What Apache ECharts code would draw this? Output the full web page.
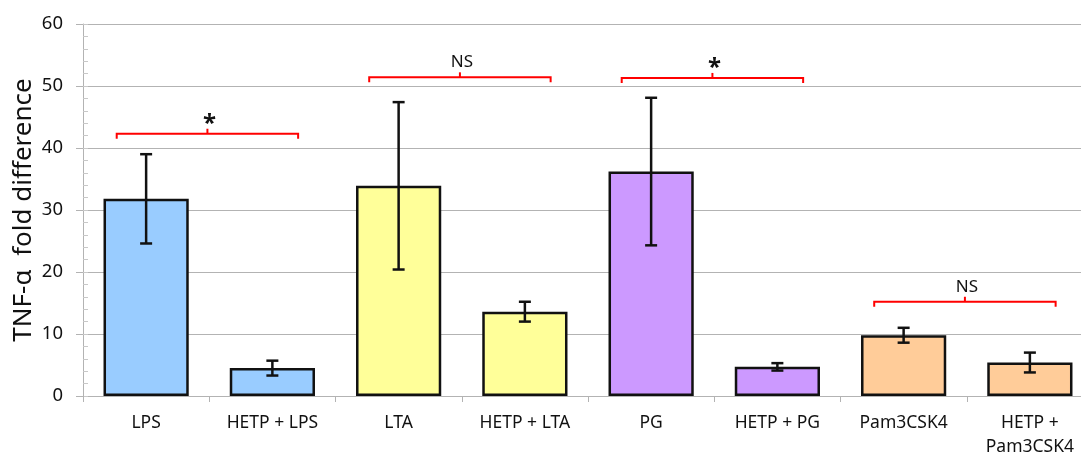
<!DOCTYPE html>
<html><head><meta charset="utf-8">
<script src="https://cdn.jsdelivr.net/npm/echarts@6/dist/echarts.min.js"></script>
<style>html,body{margin:0;padding:0;overflow:hidden;background:#fff;width:1081px;height:457px}#c{width:1093px;height:457px}</style>
</head><body><div id="c"></div>
<script>
const categories = ['LPS', 'HETP + LPS', 'LTA', 'HETP + LTA', 'PG', 'HETP + PG', 'Pam3CSK4', 'HETP +\nPam3CSK4'];
const means = [31.8, 4.5, 33.9, 13.6, 36.2, 4.7, 9.8, 5.4];
const errors = [7.2, 1.2, 13.5, 1.6, 11.9, 0.6, 1.2, 1.6];
const barColors = ['#99CCFF', '#99CCFF', '#FFFF99', '#FFFF99', '#CC99FF', '#CC99FF', '#FFCC99', '#FFCC99'];
// brackets: [startCategory, endCategory, height, label]
const brackets = [[0, 1, 42.3, '*'], [2, 3, 51.4, 'NS'], [4, 5, 51.3, '*'], [6, 7, 15.2, 'NS']];
const yTicks = [0, 10, 20, 30, 40, 50, 60];

const FONT = '"Noto Sans", "Open Sans", sans-serif';
const chart = echarts.init(document.getElementById('c'), null, {renderer: 'canvas'});
chart.setOption({
  animation: false,
  grid: {left: 83, right: 0, top: 24, bottom: 61, outerBoundsMode: 'none', containLabel: false},
  xAxis: {
    type: 'category', data: categories,
    axisLine: {lineStyle: {color: '#b3b3b3', width: 1}},
    axisTick: {show: true, length: 6, lineStyle: {color: '#b3b3b3'}},
    axisLabel: {color: '#111', fontFamily: FONT, fontSize: 17.5, margin: 15, lineHeight: 24, interval: 0}
  },
  yAxis: [{
    type: 'value', min: yTicks[0], max: yTicks[yTicks.length - 1], interval: 10,
    name: 'TNF-α  fold difference', nameLocation: 'middle', nameGap: 46, nameMoveOverlap: false,
    nameTextStyle: {fontFamily: FONT, fontSize: 26, color: '#111'},
    axisLine: {show: true, lineStyle: {color: '#b3b3b3'}},
    axisTick: {show: true, length: 7, lineStyle: {color: '#b3b3b3'}},
    axisLabel: {color: '#111', fontFamily: FONT, fontSize: 18.5, margin: 20},
    splitLine: {lineStyle: {color: '#b3b3b3', width: 1}}
  }, {
    type: 'value', min: yTicks[0], max: yTicks[yTicks.length - 1], interval: 2, position: 'left',
    axisLine: {show: false}, axisLabel: {show: false}, splitLine: {show: false},
    axisTick: {show: true, inside: true, length: 5, lineStyle: {color: '#c8c8c8'}}
  }],
  series: [{
    type: 'bar', barWidth: '67.5%',
    data: means.map((v, i) => ({value: v, itemStyle: {color: barColors[i]}})),
    itemStyle: {borderColor: '#111', borderWidth: 2.5}
  }, {
    type: 'custom', z: 5,
    data: means.map((v, i) => [i, v, errors[i]]),
    renderItem: function (params, api) {
      const i = api.value(0), m = api.value(1), e = api.value(2);
      const top = api.coord([i, m + e]), bot = api.coord([i, m - e]);
      const hw = 6, st = {stroke: '#111', lineWidth: 2.5};
      return {type: 'group', children: [
        {type: 'line', shape: {x1: top[0], y1: top[1], x2: bot[0], y2: bot[1]}, style: st},
        {type: 'line', shape: {x1: top[0] - hw, y1: top[1], x2: top[0] + hw, y2: top[1]}, style: st},
        {type: 'line', shape: {x1: bot[0] - hw, y1: bot[1], x2: bot[0] + hw, y2: bot[1]}, style: st}
      ]};
    }
  }, {
    type: 'custom', z: 6,
    data: brackets,
    renderItem: function (params, api) {
      const a = api.coord([api.value(0), api.value(2)]);
      const b = api.coord([api.value(1), api.value(2)]);
      const bw = api.size([1, 0])[0];
      const x0 = a[0] - 0.233 * bw, x1 = b[0] + 0.204 * bw, y = a[1];
      const xm = (x0 + x1) / 2;
      const lbl = brackets[params.dataIndex][3];
      const st = {stroke: '#FF0000', lineWidth: 2, fill: null};
      return {type: 'group', children: [
        {type: 'polyline', shape: {points: [[x0, y + 5], [x0, y], [x1, y], [x1, y + 5]]}, style: st},
        {type: 'line', shape: {x1: xm, y1: y, x2: xm, y2: y - 5}, style: st},
        {type: 'text', x: xm + 2, y: lbl === '*' ? y - 10 : y - 15,
         style: {text: lbl, fill: '#111', fontFamily: FONT, fontSize: lbl === '*' ? 24 : 17,
                 fontWeight: lbl === '*' ? 'bold' : 'normal', align: 'center', verticalAlign: 'middle'}}
      ]};
    }
  }]
});
</script></body></html>
